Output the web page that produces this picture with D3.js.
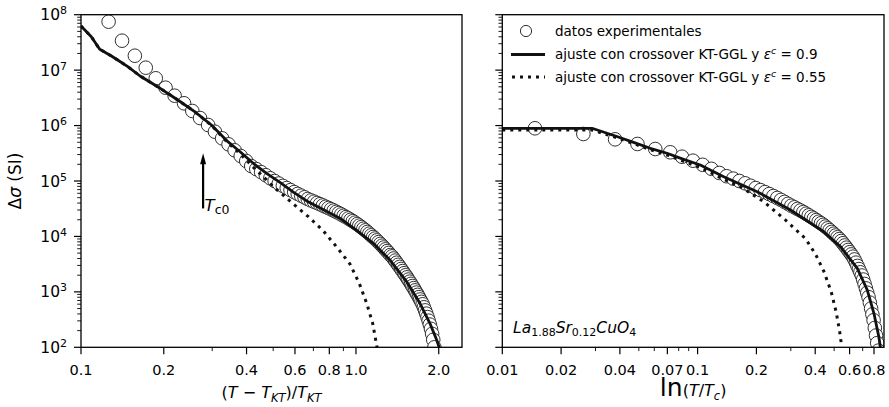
<!DOCTYPE html>
<meta charset="utf-8">
<title>La1.88Sr0.12CuO4 paraconductividad</title>
<style>
body { margin: 0; background: #fff; }
text { font-family: "DejaVu Sans", sans-serif; fill: #000; }
.frame { fill: none; stroke: #000; stroke-width: 1.3; }
.exp { fill: #fff; stroke: #1a1a1a; stroke-width: 0.9; }
.fit { fill: none; stroke: #111; stroke-width: 2.8; stroke-linejoin: round; }
.fit2 { fill: none; stroke: #111; stroke-width: 3; stroke-dasharray: 3,5; }
</style>
<body>
<svg id="chart" width="889" height="407"></svg>
<script src="https://cdn.jsdelivr.net/npm/d3@7"></script>
<script>
// ---- data (Δσ stored as log10 values) ----
var leftExpX = [0.126,0.141,0.157,0.172,0.187,0.203,0.219,0.237,0.254,0.271,0.290,0.307,0.326,0.344,0.362,0.381,0.399,0.416,
  0.434,0.452,0.470,0.488,0.506,0.524,0.542,0.560,0.578,0.596,0.614,0.632,0.650,0.668,0.686,0.704,0.722,0.740,0.758,0.776,
  0.794,0.812,0.830,0.848,0.866,0.884,0.902,0.920,0.938,0.956,0.974,0.992,1.010,1.028,1.046,1.064,1.082,1.100,1.118,1.136,
  1.154,1.172,1.190,1.208,1.226,1.244,1.262,1.280,1.298,1.316,1.334,1.352,1.370,1.388,1.406,1.424,1.442,1.460,1.478,1.496,
  1.514,1.532,1.550,1.568,1.586,1.604,1.622,1.640,1.658,1.676,1.694,1.712,1.730,1.748,1.766,1.784,1.802,1.820,1.838,1.856,
  1.874,1.892,1.910,1.928,1.946];
var leftExpLogSigma = [7.874,7.531,7.260,7.044,6.853,6.683,6.539,6.402,6.263,6.136,6.010,5.889,5.770,5.662,5.554,5.451,5.361,5.270,
  5.215,5.160,5.104,5.049,5.000,4.954,4.912,4.873,4.836,4.800,4.767,4.736,4.706,4.675,4.650,4.627,4.604,4.581,4.558,4.535,
  4.513,4.490,4.467,4.444,4.421,4.397,4.373,4.349,4.325,4.300,4.275,4.249,4.222,4.195,4.167,4.139,4.110,4.080,4.050,4.020,
  3.990,3.961,3.929,3.897,3.865,3.833,3.800,3.767,3.735,3.702,3.665,3.640,3.602,3.564,3.526,3.488,3.451,3.413,3.375,3.337,
  3.300,3.262,3.222,3.184,3.145,3.106,3.067,3.027,2.987,2.946,2.905,2.863,2.820,2.776,2.722,2.666,2.607,2.545,2.480,2.410,
  2.332,2.242,2.135,2.000,1.830];

var leftFitX = [0.100,0.109,0.117,0.129,0.139,0.148,0.164,0.194,0.225,0.259,0.298,0.342,0.379,0.423,0.473,0.529,0.592,0.662,
  0.750,0.874,1.000,1.156,1.329,1.529,1.709,1.857,1.966,2.007,2.030];
var leftFitLogSigma = [7.796,7.603,7.376,7.255,7.152,7.062,6.894,6.672,6.461,6.250,6.010,5.709,5.528,5.319,5.139,4.975,4.800,4.640,
  4.500,4.330,4.120,3.876,3.575,3.183,2.793,2.433,2.131,2.000,1.800];

var leftFit2X = [0.100,0.109,0.117,0.129,0.139,0.148,0.164,0.194,0.225,0.259,0.298,0.342,0.379,0.423,0.473,0.508,0.584,0.671,
  0.760,0.855,0.951,1.028,1.094,1.150,1.189,1.210];
var leftFit2LogSigma = [7.796,7.603,7.376,7.255,7.152,7.062,6.894,6.672,6.461,6.250,6.005,5.690,5.490,5.250,5.020,4.870,4.610,4.356,
  4.103,3.797,3.502,3.154,2.793,2.433,2.041,1.800];

var rightExpX = [0.0147,0.0260,0.0378,0.0492,0.0607,0.0724,0.0832,0.0947,0.1062,0.1177,0.1292,0.1407,0.1522,0.1637,0.1752,
  0.1867,0.1982,0.2097,0.2212,0.2327,0.2442,0.2557,0.2672,0.2787,0.2902,0.3017,0.3132,0.3247,0.3362,0.3477,0.3592,0.3707,
  0.3822,0.3937,0.4052,0.4167,0.4282,0.4397,0.4512,0.4627,0.4742,0.4857,0.4972,0.5087,0.5202,0.5317,0.5432,0.5547,0.5662,
  0.5777,0.5892,0.6007,0.6122,0.6237,0.6352,0.6467,0.6582,0.6697,0.6812,0.6927,0.7042,0.7157,0.7272,0.7387,0.7502,0.7617,
  0.7732,0.7847,0.7962,0.8077,0.8192,0.8307,0.8422];
var rightExpLogSigma = [5.951,5.848,5.752,5.668,5.577,5.518,5.438,5.366,5.292,5.220,5.145,5.086,5.043,5.000,4.958,
  4.915,4.873,4.836,4.800,4.765,4.729,4.694,4.659,4.623,4.588,4.554,4.525,4.496,4.468,4.439,4.410,4.381,
  4.352,4.324,4.295,4.266,4.238,4.209,4.178,4.146,4.114,4.081,4.049,4.017,3.985,3.952,3.917,3.877,3.837,
  3.797,3.756,3.716,3.676,3.635,3.585,3.527,3.469,3.411,3.353,3.295,3.222,3.143,3.063,2.984,2.905,2.806,
  2.700,2.594,2.488,2.350,2.213,2.076,1.940];

var rightFitX = [0.010,0.0288,0.0386,0.0470,0.0572,0.0697,0.0848,0.1032,0.1360,0.2017,0.2988,0.4428,0.5393,0.6570,0.7390,
  0.7991,0.8476,0.8620,0.8700];
var rightFitLogSigma = [5.951,5.951,5.802,5.698,5.590,5.500,5.391,5.288,5.077,4.807,4.477,4.085,3.815,3.425,3.033,
  2.613,2.180,2.000,1.700];

var rightFit2X = [0.010,0.0288,0.0386,0.0470,0.0572,0.0697,0.0848,0.1032,0.1360,0.1656,0.2181,0.2818,0.3567,0.4014,0.4428,
  0.4832,0.5126,0.5349,0.5438,0.5520];
var rightFit2LogSigma = [5.920,5.920,5.780,5.675,5.565,5.470,5.355,5.245,5.030,4.897,4.626,4.296,3.960,3.680,3.370,
  3.000,2.630,2.260,2.070,1.850];

var leftTicks = [0.1,0.2,0.4,0.6,0.8,1.0,2.0];
var leftTickLabels = ["0.1","0.2","0.4","0.6","0.8","1.0","2.0"];
var leftMinor = [0.3,0.5,0.7,0.9];
var rightTicks = [0.01,0.02,0.04,0.07,0.1,0.2,0.4,0.6,0.8];
var rightTickLabels = ["0.01","0.02","0.04","0.07","0.1","0.2","0.4","0.6","0.8"];
var rightMinor = [0.03,0.05,0.06,0.08,0.09,0.3,0.5,0.7];
var yDomain = [1e2, 1e8];

var legendLabels = ["datos experimentales", "ajuste con crossover KT-GGL y ", "ajuste con crossover KT-GGL y "];
var legendEps = ["", "0.9", "0.55"];

// ---- layout ----
var yTop = 14.7, yBottom = 347.3;
var svg = d3.select("#chart");

var y = d3.scaleLog().domain(yDomain).range([yBottom, yTop]);
var xL = d3.scaleLog().domain([0.1, 2.43]).range([81, 462]);
var xR = d3.scaleLog().domain([0.01, 0.9]).range([502.3, 884]);

function pairs(xs, ls) { return xs.map(function(v, i) { return [v, Math.pow(10, ls[i])]; }); }

function panel(id, x, exp, fit, fit2, major, majorLab, minor, yLabels) {
  var x0 = x.range()[0], x1 = x.range()[1];
  svg.append("clipPath").attr("id", id)
    .append("rect").attr("x", x0).attr("y", yTop).attr("width", x1 - x0).attr("height", yBottom - yTop);
  var g = svg.append("g").attr("clip-path", "url(#" + id + ")");
  var line = d3.line().x(function(d) { return x(d[0]); }).y(function(d) { return y(d[1]); });

  g.selectAll("circle").data(exp).enter().append("circle")
    .attr("class", "exp")
    .attr("cx", function(d) { return x(d[0]); })
    .attr("cy", function(d) { return y(d[1]); })
    .attr("r", 6.8);
  g.append("path").attr("class", "fit2").attr("d", line(fit2));
  g.append("path").attr("class", "fit").attr("d", line(fit));

  // y ticks
  y.ticks().forEach(function(v) {
    var e = Math.round(Math.log10(v));
    var isMajor = Math.abs(v - Math.pow(10, e)) < 1e-6 * v;
    svg.append("line").attr("x1", x0).attr("x2", x0 - (isMajor ? 7 : 3.8))
      .attr("y1", y(v)).attr("y2", y(v))
      .attr("stroke", "#000").attr("stroke-width", isMajor ? 1.2 : 0.9);
    if (isMajor && yLabels) {
      var t = svg.append("text").attr("x", x0 - 14).attr("y", y(v)).attr("dy", "0.36em")
        .attr("text-anchor", "end").style("font-size", "15.5px");
      t.append("tspan").text("10");
      t.append("tspan").attr("dy", "-0.55em").style("font-size", "11px").text(e);
    }
  });
  // x ticks
  major.forEach(function(v, i) {
    svg.append("line").attr("x1", x(v)).attr("x2", x(v)).attr("y1", yBottom).attr("y2", yBottom + 7)
      .attr("stroke", "#000").attr("stroke-width", 1.2);
    svg.append("text").attr("x", x(v)).attr("y", 375).attr("text-anchor", "middle")
      .style("font-size", "14.5px").text(majorLab[i]);
  });
  minor.forEach(function(v) {
    svg.append("line").attr("x1", x(v)).attr("x2", x(v)).attr("y1", yBottom).attr("y2", yBottom + 3.8)
      .attr("stroke", "#000").attr("stroke-width", 0.9);
  });
  svg.append("rect").attr("class", "frame").attr("x", x0).attr("y", yTop)
    .attr("width", x1 - x0).attr("height", yBottom - yTop);
}

panel("clipL", xL, pairs(leftExpX, leftExpLogSigma), pairs(leftFitX, leftFitLogSigma),
  pairs(leftFit2X, leftFit2LogSigma), leftTicks, leftTickLabels, leftMinor, true);
panel("clipR", xR, pairs(rightExpX, rightExpLogSigma), pairs(rightFitX, rightFitLogSigma),
  pairs(rightFit2X, rightFit2LogSigma), rightTicks, rightTickLabels, rightMinor, false);

// axis labels
var yl = svg.append("text").attr("transform", "translate(21," + ((yTop + yBottom) / 2) + ") rotate(-90)")
  .attr("text-anchor", "middle").style("font-size", "17px");
yl.append("tspan").text("Δ");
yl.append("tspan").style("font-style", "italic").text("σ");
yl.append("tspan").text(" (SI)");

var xl = svg.append("text").attr("x", (81 + 462) / 2).attr("y", 398).attr("text-anchor", "middle")
  .style("font-size", "16px");
xl.append("tspan").text("(");
xl.append("tspan").style("font-style", "italic").text("T");
xl.append("tspan").text(" − ");
xl.append("tspan").style("font-style", "italic").text("T");
xl.append("tspan").attr("dy", 4).style("font-style", "italic").style("font-size", "11.5px").text("KT");
xl.append("tspan").attr("dy", -4).text(")/");
xl.append("tspan").style("font-style", "italic").text("T");
xl.append("tspan").attr("dy", 4).style("font-style", "italic").style("font-size", "11.5px").text("KT");

var xr = svg.append("text").attr("x", (502.3 + 884) / 2).attr("y", 396).attr("text-anchor", "middle")
  .style("font-size", "25px");
xr.append("tspan").text("ln");
xr.append("tspan").style("font-size", "16px").text("(");
xr.append("tspan").style("font-size", "16px").style("font-style", "italic").text("T");
xr.append("tspan").style("font-size", "16px").text("/");
xr.append("tspan").style("font-size", "16px").style("font-style", "italic").text("T");
xr.append("tspan").attr("dy", 4).style("font-size", "11.5px").style("font-style", "italic").text("c");
xr.append("tspan").attr("dy", -4).style("font-size", "16px").text(")");

// T_c0 arrow
var ax = xL(0.278), ayTop = y(3.16e5), ayBot = y(3.2e4);
svg.append("line").attr("x1", ax).attr("x2", ax).attr("y1", ayBot).attr("y2", ayTop + 9)
  .attr("stroke", "#000").attr("stroke-width", 2.2);
svg.append("path").attr("d", "M" + ax + "," + ayTop + "L" + (ax - 3) + "," + (ayTop + 11) + "L" + (ax + 3) + "," + (ayTop + 11) + "Z")
  .attr("fill", "#000");
var tc = svg.append("text").attr("x", ax + 1.5).attr("y", ayBot + 3).style("font-size", "16.5px");
tc.append("tspan").style("font-style", "italic").text("T");
tc.append("tspan").attr("dy", 3).style("font-size", "12.5px").text("c0");

// compound label
var mat = svg.append("text").attr("x", 513).attr("y", 333).style("font-size", "15.5px").style("font-style", "italic");
mat.append("tspan").text("La");
mat.append("tspan").attr("dy", 3).style("font-size", "11px").style("font-style", "normal").text("1.88");
mat.append("tspan").attr("dy", -3).text("Sr");
mat.append("tspan").attr("dy", 3).style("font-size", "11px").style("font-style", "normal").text("0.12");
mat.append("tspan").attr("dy", -3).text("CuO");
mat.append("tspan").attr("dy", 3).style("font-size", "11px").style("font-style", "normal").text("4");

// legend
var legRows = [31, 54.5, 77];
var lg = svg.append("g");
lg.append("circle").attr("class", "exp").attr("cx", 526).attr("cy", legRows[0]).attr("r", 5.6);
lg.append("line").attr("class", "fit").attr("x1", 511).attr("x2", 545).attr("y1", legRows[1]).attr("y2", legRows[1]);
lg.append("line").attr("class", "fit2").attr("x1", 512).attr("x2", 545).attr("y1", legRows[2]).attr("y2", legRows[2]);
legendLabels.forEach(function(s, i) {
  var t = lg.append("text").attr("x", 555).attr("y", legRows[i]).attr("dy", "0.36em").style("font-size", "13.5px");
  t.append("tspan").text(s);
  if (legendEps[i]) {
    t.append("tspan").style("font-style", "italic").text("ε");
    t.append("tspan").attr("dy", -5).style("font-size", "9.5px").style("font-style", "italic").text("c");
    t.append("tspan").attr("dy", 5).text(" = " + legendEps[i]);
  }
});
</script>
</body>
